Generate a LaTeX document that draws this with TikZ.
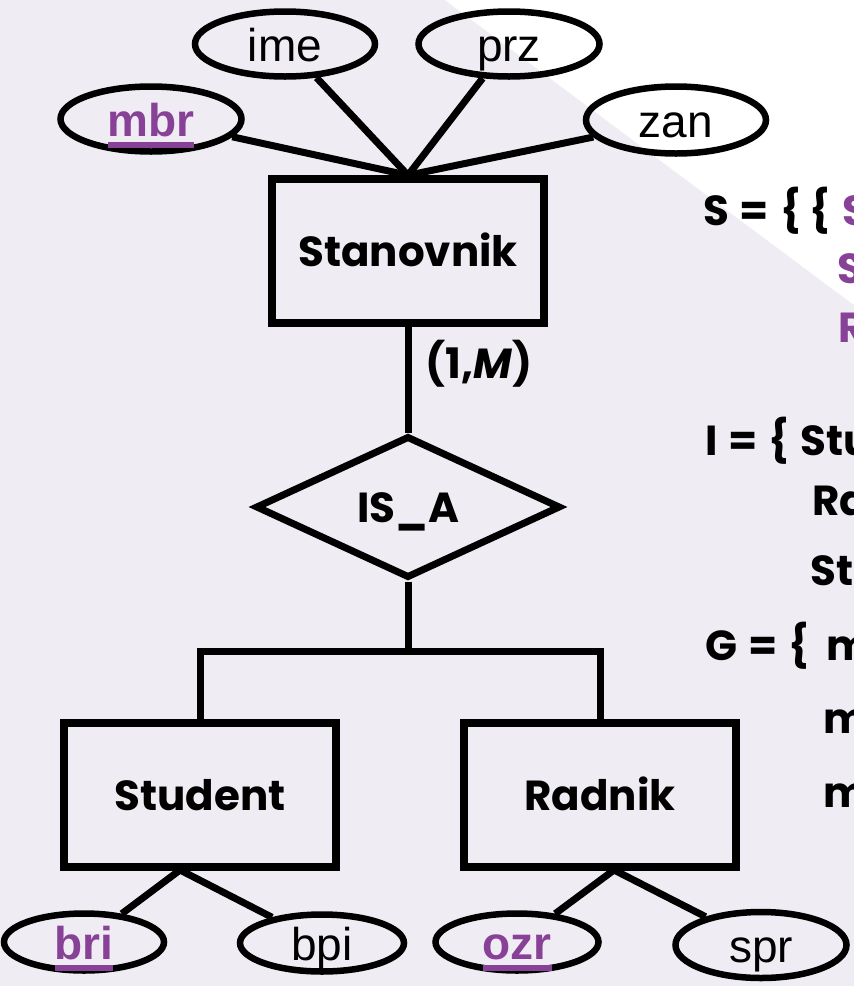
\documentclass[tikz,border=0pt]{standalone}
\usepackage{fontspec}
\setmainfont{Liberation Sans}
\newfontfamily\gothicf{Poppins}
\usetikzlibrary{shapes.geometric}
\newcommand\gothic{\gothicf\bfseries}
\newcommand\gap{\hspace{11pt}}
\definecolor{bgl}{RGB}{240,236,243}
\definecolor{keyp}{RGB}{135,65,150}
\newcommand\keyul[1]{\setbox0\hbox{#1}\rlap{\copy0}\rule[-11.5pt]{\wd0}{5.5pt}}
\tikzset{
  ent/.style={draw, line width=7.5pt, rectangle, minimum width=272pt, minimum height=144pt, inner sep=0pt,
    font=\gothic\fontsize{42}{50}\selectfont, text height=31pt, text depth=0pt},
  rel/.style={draw, line width=7pt, diamond, minimum width=305pt, minimum height=142pt, inner sep=0pt,
    font=\gothic\fontsize{42}{50}\selectfont, text height=31pt, text depth=0pt},
  attr/.style={draw, line width=6.5pt, ellipse, inner sep=0pt,
    font=\fontsize{46}{55}\selectfont, text height=34pt, text depth=0pt},
  keyattr/.style={attr, font=\bfseries\fontsize{46}{55}\selectfont, text=keyp},
  conn/.style={line width=7pt},
  side/.style={anchor=base west, inner sep=0pt, font=\gothic\fontsize{42}{50}\selectfont},
  sidek/.style={side, text=keyp}
}
\begin{document}
\begin{tikzpicture}[x=1pt, y=-1pt]
\useasboundingbox (0,0) rectangle (854,986);
\clip (0,0) rectangle (854,986);
\fill[bgl] (0,0) rectangle (854,986);
\fill[white] (445,0) -- (854,0) -- (854,305) -- cycle;

% entities and relationship
\node[ent] (stan) at (408,251) {Stanovnik};
\node[rel] (isa) at (408,507) {IS\_A};
\node[ent] (stud) at (200,795) {Student};
\node[ent] (rad) at (600,795) {Radnik};
\node[font=\gothic\fontsize{42}{50}\selectfont, inner sep=0pt] (card) at (479,364) {(1,\textit{M})};

% attributes
\node[keyattr, minimum width=181pt, minimum height=65pt] (mbr) at (151,119) {\keyul{mbr}};
\node[attr, minimum width=180pt, minimum height=65pt] (ime) at (285,44) {ime};
\node[attr, minimum width=181pt, minimum height=65pt] (prz) at (509,44) {prz};
\node[attr, minimum width=180pt, minimum height=67pt] (zan) at (676,120) {zan};
\node[keyattr, minimum width=160pt, minimum height=57pt] (bri) at (84,942) {\keyul{bri}};
\node[attr, minimum width=164pt, minimum height=57pt] (bpi) at (322,943) {bpi};
\node[keyattr, minimum width=163pt, minimum height=57pt] (ozr) at (517,942) {\keyul{ozr}};
\node[attr, minimum width=171pt, minimum height=66pt] (spr) at (761,945) {spr};

% junctions
\coordinate (bar) at (408,651);
\coordinate (sj) at (180,870);
\coordinate (rj) at (614,870);

% connectors
\draw[conn] (mbr) -- (stan.north);
\draw[conn] (ime) -- (stan.north);
\draw[conn] (prz) -- (stan.north);
\draw[conn] (zan) -- (stan.north);
\draw[conn] (stan.south) -- (isa.north);
\draw[conn] (isa.south) -- (bar);
\draw[conn] (stud.north) |- (bar) -| (rad.north);
\draw[conn] (sj) -- (bri);
\draw[conn] (sj) -- (bpi);
\draw[conn] (rj) -- (ozr);
\draw[conn] (rj) -- (spr);

% side text
\node[side] (s1) at (703,225) {S\gap=\gap\{\hspace{8pt}\{};
\node[sidek] (s1k) at (842,225) {S};
\node[sidek] (s2k) at (837,283) {S};
\node[sidek] (s3k) at (838,342) {R};
\node[side] (i1) at (705,455) {I\gap=\gap\{};
\node[side] (i1b) at (800,455) {Stu};
\node[side] (i2) at (812,515) {Ra};
\node[side] (i3) at (810,585) {Sta};
\node[side] (g1) at (705,660) {G\gap=\gap\{};
\node[side] (g1b) at (826,660) {m};
\node[side] (g2) at (823,733) {m};
\node[side] (g3) at (823,807) {m};
\end{tikzpicture}
\end{document}
